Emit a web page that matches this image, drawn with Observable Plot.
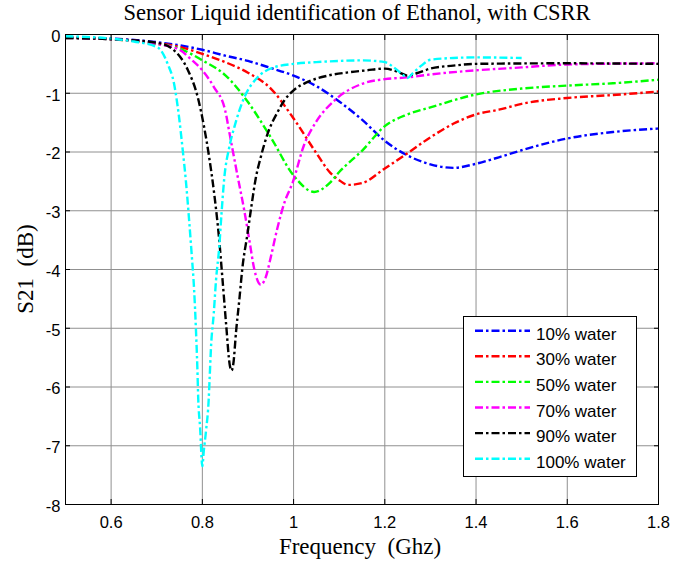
<!DOCTYPE html>
<html>
<head>
<meta charset="utf-8">
<script src="https://cdn.jsdelivr.net/npm/d3@7"></script>
<script src="https://cdn.jsdelivr.net/npm/@observablehq/plot@0.6"></script>
<style>
  html, body { margin: 0; padding: 0; background: white; }
</style>
</head>
<body>
<div id="chart"></div>
<script>
const titleText = "Sensor Liquid identification of Ethanol, with CSRR";
const xLabel = "Frequency  (Ghz)";
const yLabel = "S21  (dB)";
const xTicks = [0.6, 0.8, 1, 1.2, 1.4, 1.6, 1.8];
const yTicks = [0, -1, -2, -3, -4, -5, -6, -7, -8];
const seriesNames = ["10% water", "30% water", "50% water", "70% water", "90% water", "100% water"];
const seriesColors = ["#0000ff", "#ff0000", "#00ff00", "#ff00ff", "#000000", "#00ffff"];

// [frequency (GHz), S21 (dB)]
const water10 = [[0.5,-0.05],[0.6,-0.07],[0.7,-0.13],[0.8,-0.26],[0.85,-0.36],[0.9,-0.45],[0.95,-0.57],[1.0,-0.7],[1.05,-0.88],[1.1,-1.14],[1.15,-1.45],[1.2,-1.81],[1.25,-2.06],[1.3,-2.21],[1.35,-2.27],[1.4,-2.2],[1.45,-2.09],[1.5,-1.97],[1.6,-1.77],[1.7,-1.66],[1.8,-1.6]];
const water30 = [[0.5,-0.05],[0.6,-0.08],[0.7,-0.15],[0.75,-0.21],[0.8,-0.33],[0.85,-0.47],[0.9,-0.65],[0.95,-0.92],[1.0,-1.43],[1.05,-2.02],[1.08,-2.35],[1.1,-2.48],[1.12,-2.56],[1.15,-2.53],[1.2,-2.28],[1.25,-2.02],[1.3,-1.75],[1.35,-1.52],[1.4,-1.36],[1.45,-1.28],[1.5,-1.18],[1.6,-1.08],[1.7,-1.03],[1.8,-0.97]];
const water50 = [[0.5,-0.06],[0.6,-0.08],[0.7,-0.16],[0.75,-0.24],[0.8,-0.44],[0.85,-0.69],[0.9,-1.15],[0.95,-1.75],[1.0,-2.4],[1.045,-2.68],[1.08,-2.52],[1.1,-2.34],[1.15,-1.98],[1.2,-1.56],[1.25,-1.36],[1.3,-1.24],[1.4,-1.02],[1.5,-0.92],[1.6,-0.87],[1.7,-0.83],[1.8,-0.77]];
const water70 = [[0.5,-0.06],[0.6,-0.08],[0.7,-0.16],[0.75,-0.26],[0.775,-0.42],[0.8,-0.61],[0.825,-0.89],[0.85,-1.29],[0.86,-1.7],[0.877,-2.4],[0.892,-3.0],[0.903,-3.5],[0.914,-4.0],[0.928,-4.26],[0.939,-4.13],[0.95,-3.79],[0.965,-3.28],[0.98,-2.86],[0.998,-2.52],[1.023,-1.88],[1.05,-1.48],[1.09,-1.12],[1.15,-0.84],[1.2,-0.76],[1.25,-0.73],[1.3,-0.68],[1.4,-0.61],[1.5,-0.56],[1.6,-0.51],[1.8,-0.49]];
const water90 = [[0.5,-0.06],[0.6,-0.08],[0.7,-0.14],[0.738,-0.27],[0.768,-0.6],[0.79,-1.07],[0.804,-1.58],[0.815,-2.09],[0.826,-2.71],[0.837,-3.5],[0.844,-4.15],[0.852,-4.92],[0.86,-5.62],[0.864,-5.72],[0.868,-5.6],[0.874,-5.05],[0.881,-4.52],[0.888,-3.96],[0.899,-3.39],[0.908,-2.9],[0.917,-2.45],[0.928,-2.09],[0.943,-1.69],[0.965,-1.32],[0.98,-1.12],[1.0,-0.95],[1.03,-0.81],[1.075,-0.7],[1.125,-0.64],[1.16,-0.61],[1.2,-0.58],[1.23,-0.64],[1.25,-0.7],[1.27,-0.66],[1.3,-0.58],[1.35,-0.53],[1.4,-0.5],[1.6,-0.49],[1.8,-0.5]];
const water100 = [[0.5,-0.03],[0.6,-0.07],[0.65,-0.12],[0.702,-0.22],[0.724,-0.5],[0.738,-0.84],[0.749,-1.41],[0.757,-1.97],[0.764,-2.5],[0.771,-3.16],[0.7765,-3.73],[0.782,-4.35],[0.786,-5.03],[0.789,-5.66],[0.791,-6.2],[0.795,-6.68],[0.8,-7.35],[0.803,-7.1],[0.808,-6.75],[0.814,-6.2],[0.816,-5.85],[0.819,-5.32],[0.825,-4.75],[0.83,-4.18],[0.837,-3.62],[0.842,-3.05],[0.848,-2.45],[0.859,-1.92],[0.87,-1.58],[0.892,-1.07],[0.921,-0.73],[0.957,-0.56],[1.0,-0.5],[1.05,-0.47],[1.1,-0.45],[1.15,-0.44],[1.2,-0.47],[1.22,-0.56],[1.24,-0.69],[1.25,-0.74],[1.26,-0.67],[1.28,-0.53],[1.3,-0.43],[1.35,-0.4],[1.4,-0.39],[1.5,-0.4]];

const allSeries = [water10, water30, water50, water70, water90, water100];
const rows = [];
allSeries.forEach((arr, i) => arr.forEach(([f, v]) => rows.push({f, v, s: seriesNames[i]})));

const W = 676, H = 565;
const mL = 65, mR = 18, mT = 34, mB = 61;
const dash = "8,3,2.5,3";
const lw = 2.4;

const chart = Plot.plot({
  width: W,
  height: H,
  marginLeft: mL,
  marginRight: mR,
  marginTop: mT,
  marginBottom: mB,
  style: {background: "white", fontFamily: "'Liberation Sans', Arial, sans-serif", fontSize: "16.5px", color: "black"},
  x: {domain: [0.5, 1.8]},
  y: {domain: [-8, 0]},
  color: {domain: seriesNames, range: seriesColors},
  marks: [
    Plot.gridX(xTicks, {stroke: "#909090", strokeOpacity: 1, strokeWidth: 1}),
    Plot.gridY(yTicks, {stroke: "#909090", strokeOpacity: 1, strokeWidth: 1}),
    Plot.line(rows, {x: "f", y: "v", z: "s", stroke: "s", curve: "monotone-x", strokeWidth: lw, strokeDasharray: dash, strokeLinecap: "butt"}),
    Plot.frame({stroke: "black", strokeWidth: 1}),
    Plot.axisX(xTicks, {anchor: "bottom", tickSize: 0, tickPadding: 12, tickFormat: d => String(d), label: null, fontSize: 16.5}),
    Plot.axisX(xTicks, {anchor: "bottom", tickSize: -5, tickFormat: () => "", label: null}),
    Plot.axisX(xTicks, {anchor: "top", tickSize: -5, tickFormat: () => "", label: null}),
    Plot.axisY(yTicks, {anchor: "left", tickSize: 0, tickPadding: 5, tickFormat: d => String(d), label: null, fontSize: 16.5, dy: 2}),
    Plot.axisY(yTicks, {anchor: "left", tickSize: -5, tickFormat: () => "", label: null}),
    Plot.axisY(yTicks, {anchor: "right", tickSize: -5, tickFormat: () => "", label: null})
  ]
});

document.getElementById("chart").appendChild(chart);

const svg = d3.select(chart);
const serif = "'Liberation Serif', 'Times New Roman', serif";

svg.append("text")
  .attr("x", 357).attr("y", 20)
  .attr("text-anchor", "middle")
  .attr("font-family", serif).attr("font-size", 22.5).attr("fill", "black")
  .text(titleText);

svg.append("text")
  .attr("x", 360).attr("y", 554)
  .attr("text-anchor", "middle")
  .attr("font-family", serif).attr("font-size", 23).attr("fill", "black")
  .style("white-space", "pre")
  .text(xLabel);

svg.append("text")
  .attr("transform", "translate(33,269) rotate(-90)")
  .attr("text-anchor", "middle")
  .attr("font-family", serif).attr("font-size", 23).attr("fill", "black")
  .style("white-space", "pre")
  .text(yLabel);

// legend
const lg = svg.append("g");
lg.append("rect")
  .attr("x", 463.5).attr("y", 316.5).attr("width", 173).attr("height", 160)
  .attr("fill", "white").attr("stroke", "black").attr("stroke-width", 1);
seriesNames.forEach((name, i) => {
  const y = 330.7 + i * 25.6;
  lg.append("line")
    .attr("x1", 475).attr("x2", 530).attr("y1", y).attr("y2", y)
    .attr("stroke", seriesColors[i]).attr("stroke-width", lw).attr("stroke-dasharray", dash);
  lg.append("text")
    .attr("x", 536).attr("y", y + 9)
    .attr("text-anchor", "start")
    .attr("font-family", "'Liberation Sans', Arial, sans-serif").attr("font-size", 17).attr("fill", "black")
    .text(name);
});
</script>
</body>
</html>
